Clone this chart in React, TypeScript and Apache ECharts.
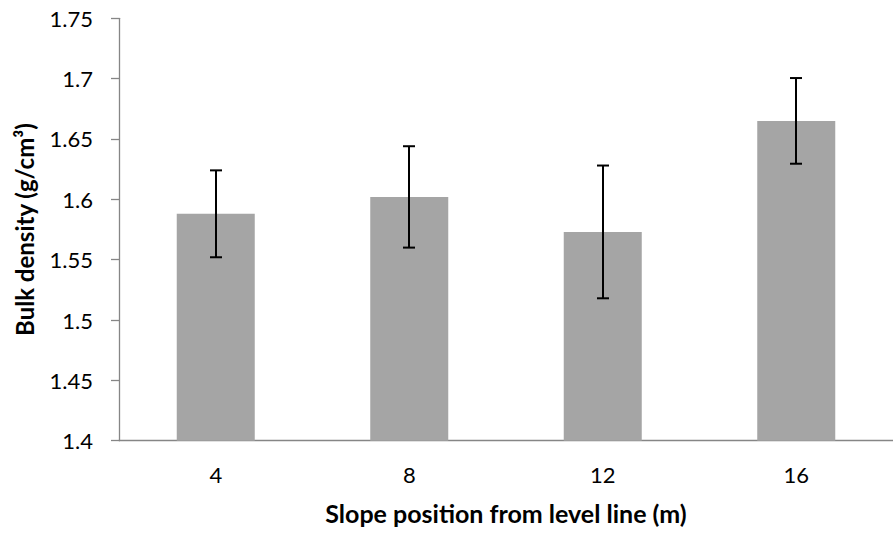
import React, { useEffect, useRef } from "react";
import * as echarts from "echarts";

const categories = ["4", "8", "12", "16"];
const means = [1.588, 1.602, 1.573, 1.665];
const errors = [0.036, 0.042, 0.055, 0.0355];
const yTicks = { min: 1.4, max: 1.75, interval: 0.05 };

const FONT = "Lato, Carlito, Calibri, sans-serif";

export default function App() {
  const ref = useRef<HTMLDivElement>(null);
  useEffect(() => {
    if (!ref.current) return;
    const chart = echarts.init(ref.current, undefined, { renderer: "svg" });
    const errData = categories.map((c, i) => [i, means[i] - errors[i], means[i] + errors[i]]);
    chart.setOption({
      animation: false,
      backgroundColor: "#ffffff",
      grid: { left: 119, top: 18.3, width: 784, height: 422.4 },
      xAxis: {
        type: "category",
        data: categories,
        axisLine: { lineStyle: { color: "#868686", width: 1.3 } },
        axisTick: { show: false },
        axisLabel: { color: "#000", fontSize: 22, fontFamily: FONT, margin: 23 },
        name: "Slope position from level line (m)",
        nameLocation: "middle",
        nameGap: 60,
        nameTextStyle: { color: "#000", fontSize: 25, fontWeight: "bold", fontFamily: FONT },
      },
      yAxis: {
        type: "value",
        min: yTicks.min,
        max: yTicks.max,
        interval: yTicks.interval,
        splitLine: { show: false },
        axisLine: { show: true, lineStyle: { color: "#868686", width: 1.3 } },
        axisTick: { show: true, length: 8, lineStyle: { color: "#868686", width: 1.3 } },
        axisLabel: {
          color: "#000",
          fontSize: 22,
          fontFamily: FONT,
          margin: 26,
          formatter: (v: number) => String(+v.toFixed(2)),
        },
        name: "Bulk density (g/cm³)",
        nameLocation: "middle",
        nameGap: 83,
        nameTextStyle: { color: "#000", fontSize: 24, fontWeight: "bold", fontFamily: FONT },
      },
      series: [
        {
          type: "bar",
          data: means,
          barWidth: 78,
          itemStyle: { color: "#a5a5a5" },
        },
        {
          type: "custom",
          data: errData,
          z: 10,
          renderItem: (params: any, api: any) => {
            const x = api.value(0);
            const lo = api.coord([x, api.value(1)]);
            const hi = api.coord([x, api.value(2)]);
            const cx = Math.round(lo[0]);
            const hw = 6;
            const style = { stroke: "#000", lineWidth: 2 };
            return {
              type: "group",
              children: [
                { type: "line", shape: { x1: cx, y1: hi[1], x2: cx, y2: lo[1] }, style },
                { type: "line", shape: { x1: cx - hw, y1: hi[1], x2: cx + hw, y2: hi[1] }, style },
                { type: "line", shape: { x1: cx - hw, y1: lo[1], x2: cx + hw, y2: lo[1] }, style },
              ],
            };
          },
        },
      ],
    });
    return () => chart.dispose();
  }, []);
  return (
    <div
      ref={ref}
      style={{ position: "absolute", left: 0, top: 0, width: 893, height: 533, background: "#fff" }}
    />
  );
}
